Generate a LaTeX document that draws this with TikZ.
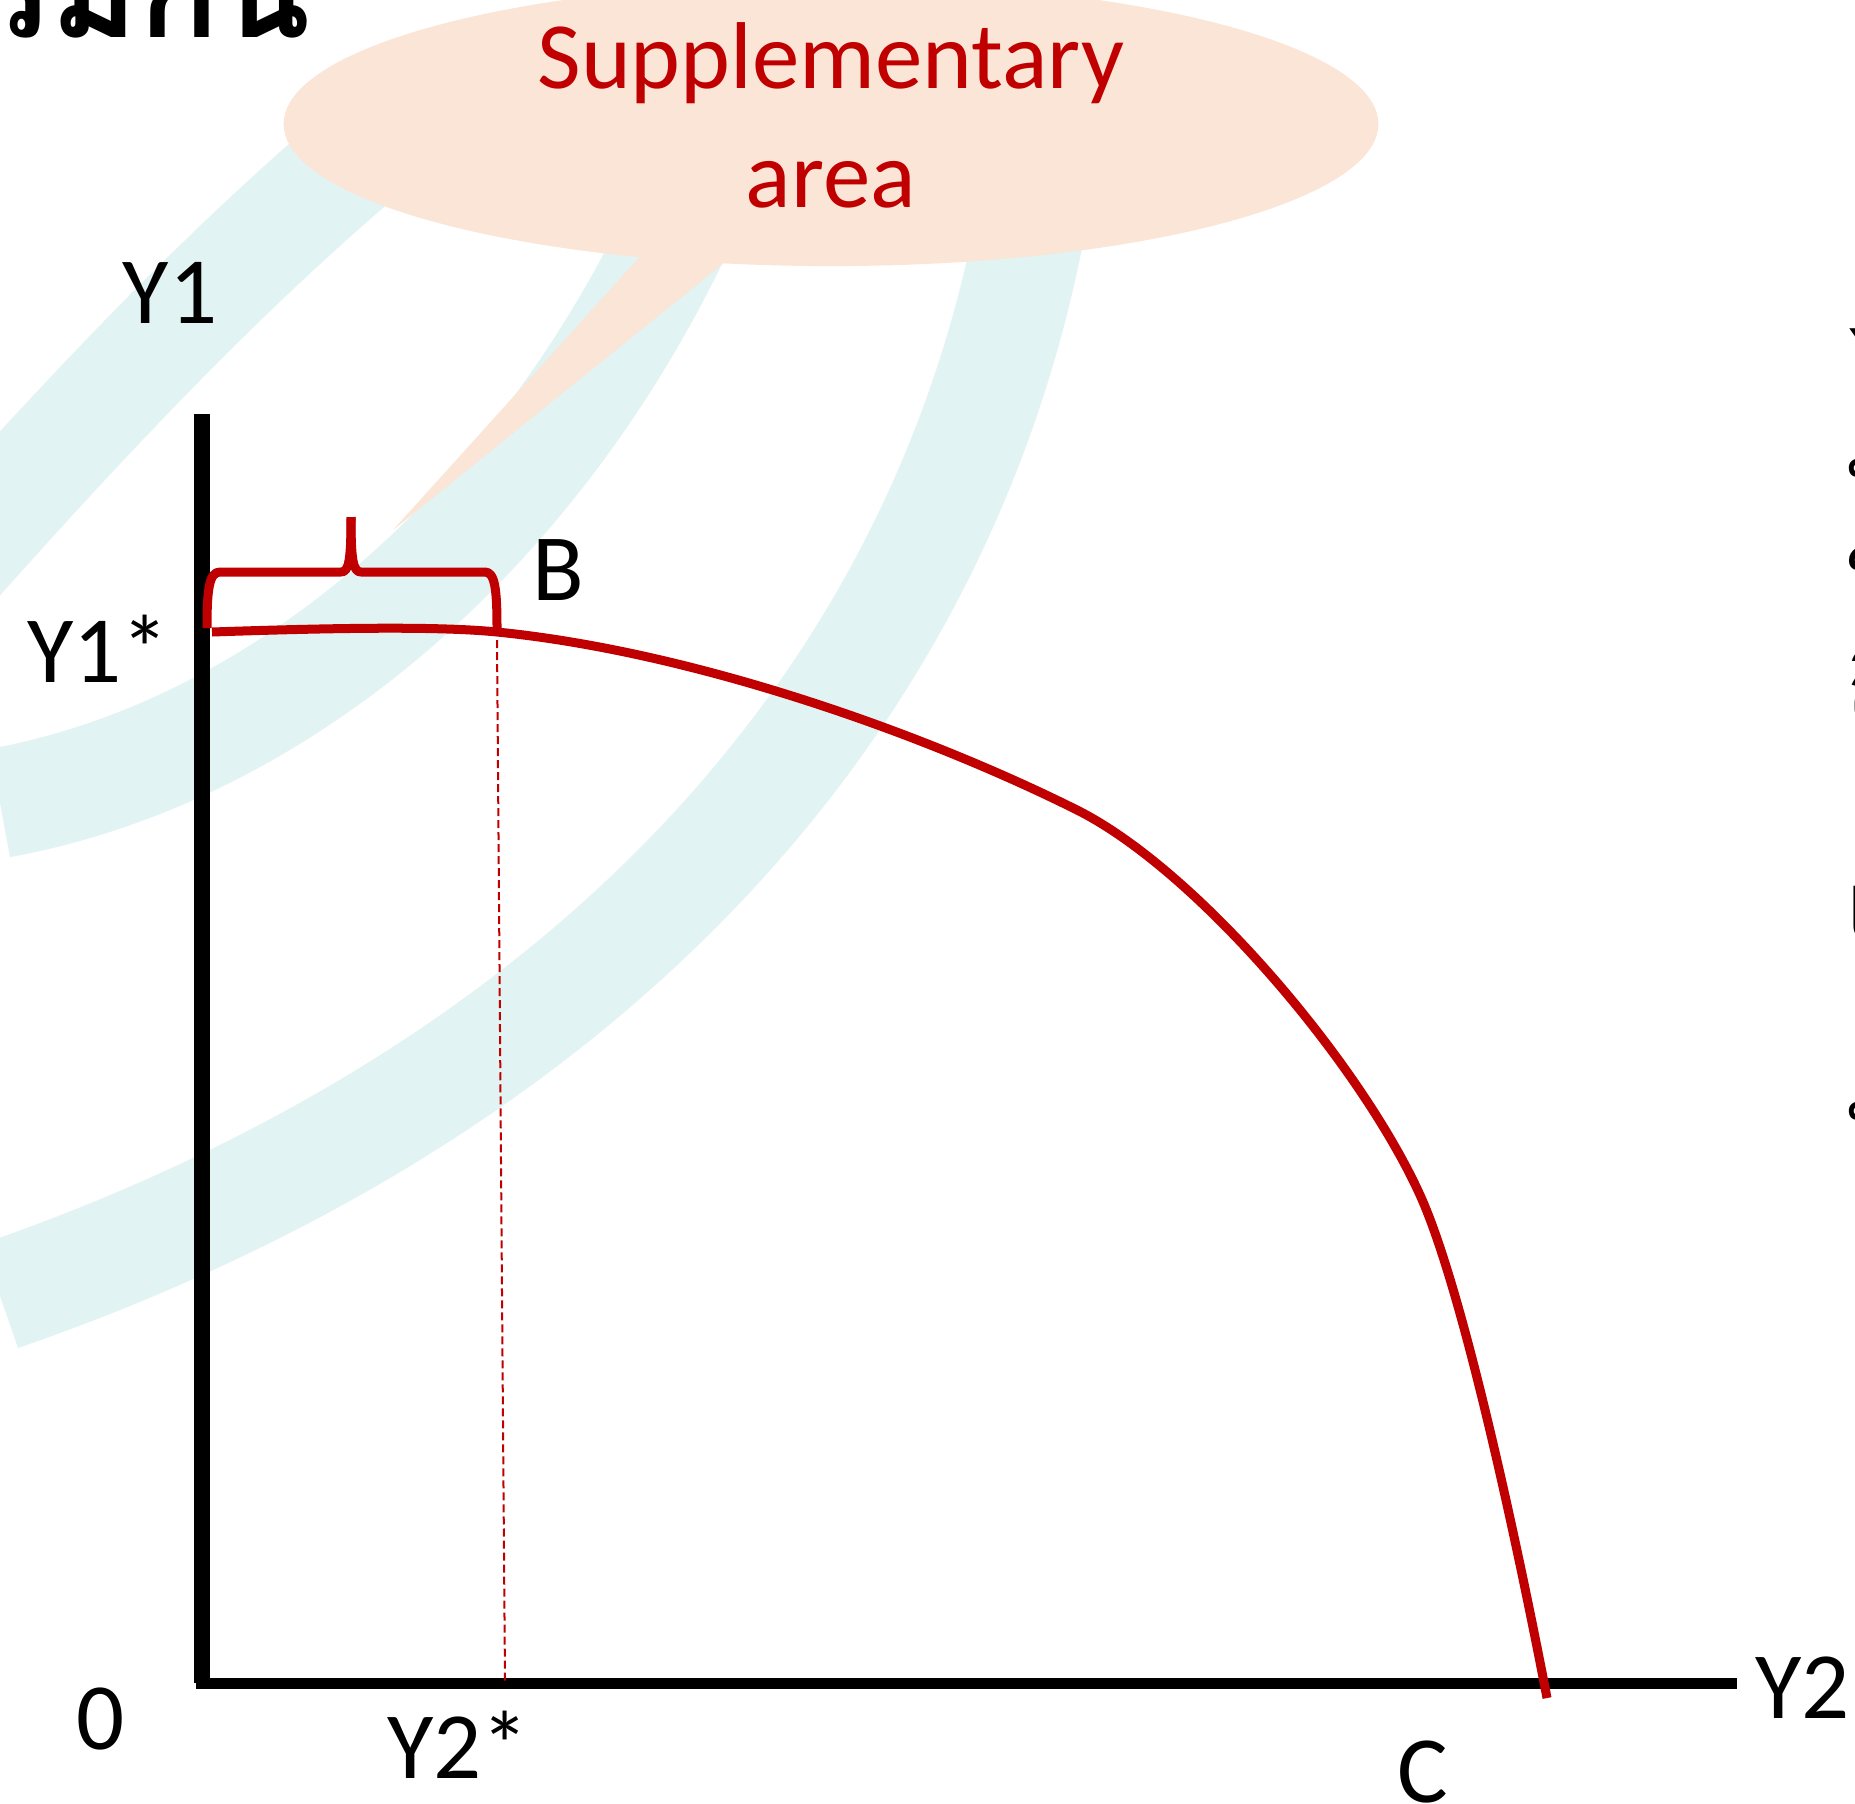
\documentclass[tikz,border=0pt]{standalone}
\usepackage{fontspec}
\setmainfont{Carlito}
\newfontfamily\thaifont[Script=Thai]{Loma}
\usetikzlibrary{calc}
\definecolor{curvered}{HTML}{C00000}
\definecolor{paleteal}{HTML}{E2F3F3}
\definecolor{peach}{HTML}{FBE5D6}

\begin{document}
\begin{tikzpicture}[x=0.01cm, y=-0.01cm, line join=round,
  band/.style={draw=paleteal, line width=11mm},
  lbl/.style={font=\fontsize{27}{32}\selectfont, inner sep=0pt, anchor=base},
  thailine/.style={font=\thaifont\fontsize{26}{32}\selectfont, inner sep=0pt, anchor=base west}]
\useasboundingbox (0,0) rectangle (1855,1803);
\fill[white] (0,0) rectangle (1855,1803);
\draw[band] (-60,580) .. controls (100,400) and (260,230) .. (440,90);
\draw[band] (0,803) .. controls (302,748) and (576,495) .. (712,150);
\draw[band] (0,1296) .. controls (595,1090) and (982,680) .. (1046,124);
\coordinate (tipL) at (646,250);
\coordinate (tipR) at (730,258);
\coordinate (tip) at (393,530);
\fill[peach] (tipL) -- (tip) -- (tipR) -- cycle;
\fill[peach] (831,124) ellipse [x radius=5.47cm, y radius=1.42cm];
\node[lbl, text=curvered] (sup1) at (831,89) {Supplementary};
\node[lbl, text=curvered] (sup2) at (831,207) {area};
\coordinate (O) at (202,1683);
\coordinate (Ytop) at (202,414);
\coordinate (Xend) at (1737,1683);
\coordinate (Bfoot) at (497,640);
\coordinate (Y2s) at (505,1683);
\coordinate (Y1s) at (212,632);
\coordinate (P1) at (497,632);
\coordinate (P2) at (1077,810);
\coordinate (P3) at (1420,1195);
\coordinate (C) at (1547,1698);
\draw[line width=1.5mm] (Ytop) -- (O);
\draw[line width=1.1mm] (196,1683) -- (Xend);
\draw[curvered, line width=0.2mm, dash pattern=on 0.8mm off 0.4mm] (Bfoot) -- (Y2s);
\draw[curvered, line width=0.9mm] (Y1s) .. controls (330,628) and (437,626) .. (P1)
  .. controls (697,652) and (927,735) .. (P2)
  .. controls (1197,870) and (1360,1063) .. (P3)
  .. controls (1465,1294) and (1522,1568) .. (C);
\draw[curvered, line width=0.9mm] (207,628) .. controls (207,590) and (209,572) .. (220,572) -- (341,572) .. controls (349,572) and (351,560) .. (351,517);
\draw[curvered, line width=0.9mm] (497,628) .. controls (497,590) and (495,572) .. (485,572) -- (361,572) .. controls (353,572) and (351,560) .. (351,517);
\node[lbl] (y1) at (170,323) {Y1};
\node[lbl] (y1s) at (98,682) {Y1*};
\node[lbl] (b) at (558,600) {B};
\node[lbl] (o) at (101,1749) {0};
\node[lbl] (y2s) at (458,1778) {Y2*};
\node[lbl] (c) at (1423,1802) {C};
\node[lbl, anchor=base west] (y2) at (1755,1718) {Y2};
\node[anchor=base east, inner sep=0pt, font=\thaifont\bfseries\fontsize{38}{44}\selectfont] (title) at (312,38) {ผลผลิตที่ส่งเสริมกัน};
\node[thailine] (r1) at (1849,393) {Y1 และ Y2};
\node[thailine] (r2) at (1846,510) {ที่ส่งเสริมกัน};
\node[thailine] (r3) at (1846,627) {ใน};
\node[thailine] (r4) at (1846,720) {ถึง};
\node[thailine] (r5) at (1846,937) {เพิ่ม};
\node[thailine] (r6) at (1846,1153) {ทำให้};
\end{tikzpicture}
\end{document}
